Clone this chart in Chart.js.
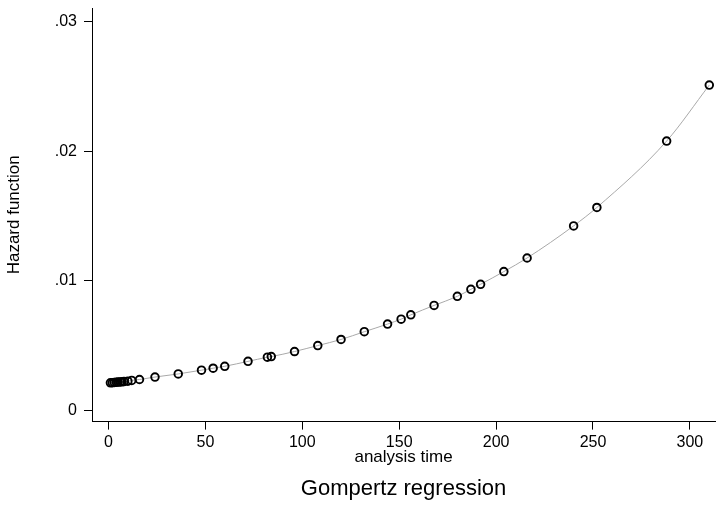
<!DOCTYPE html>
<html>
<head>
<meta charset="utf-8">
<script src="https://cdn.jsdelivr.net/npm/chart.js@4"></script>
<style>
  body { margin: 0; background: #fff; }
</style>
</head>
<body>
<canvas id="hazard" width="721" height="507"></canvas>
<script>
// gompertz hazard, values

const analysisTime = [1, 2, 3, 4, 5, 6, 7, 8, 10, 12, 16, 24, 36, 48, 54, 60, 72, 82, 84, 96,
  108, 120, 132, 144, 151, 156, 168, 180, 187, 192, 204, 216, 240, 252, 288, 310];
const hazard = [0.00212, 0.00213, 0.00215, 0.00216, 0.00218, 0.00219, 0.0022, 0.00222, 0.00225,
  0.00231, 0.00238, 0.00257, 0.00281, 0.0031, 0.00325, 0.0034, 0.00378, 0.0041, 0.00415, 0.00454,
  0.005, 0.00547, 0.00607, 0.00666, 0.00704, 0.00737, 0.0081, 0.0088, 0.00934, 0.00973, 0.01071,
  0.01176, 0.01424, 0.01566, 0.02079, 0.02511];

const xTicks = [0, 50, 100, 150, 200, 250, 300];
const yTicks = [0, 0.01, 0.02, 0.03];

const points = analysisTime.map((t, i) => ({ x: t, y: hazard[i] }));

const font = 'Liberation Sans, Arial, Helvetica, sans-serif';
Chart.defaults.color = '#000';
Chart.defaults.font.family = font;

const hazardChart = {
  type: 'scatter',
  data: {
    datasets: [{
      data: points,
      showLine: true,
      borderColor: '#a9a9a9',
      borderWidth: 1,
      cubicInterpolationMode: 'monotone',
      pointRadius: 3.8,
      pointBorderWidth: 1.9,
      pointBorderColor: '#000',
      pointBackgroundColor: 'rgba(0,0,0,0)',
      clip: false
    }]
  },
  options: {
    responsive: false,
    animation: false,
    layout: { padding: { top: 8, right: 0, left: 0, bottom: 0 } },
    plugins: {
      legend: { display: false },
      tooltip: { enabled: false },
      title: {
        display: true,
        text: 'Gompertz regression',
        position: 'bottom',
        fullSize: false,
        font: { size: 22, weight: 'normal' },
        padding: { top: 8, bottom: 5 }
      }
    },
    scales: {
      x: {
        type: 'linear',
        min: -8.5,
        max: 313,
        afterBuildTicks: s => { s.ticks = xTicks.map(v => ({ value: v })); },
        afterFit: s => { s.height = 46; s.paddingLeft = 0; s.paddingRight = 0; },
        grid: { drawOnChartArea: false, drawTicks: true, tickLength: 8, color: '#000' },
        border: { display: true, color: '#000', width: 1 },
        ticks: { padding: 3, font: { size: 16 }, maxRotation: 0 },
        title: { display: true, text: 'analysis time', font: { size: 17 }, padding: 0 }
      },
      y: {
        type: 'linear',
        min: -0.00087,
        max: 0.03106,
        afterBuildTicks: s => { s.ticks = yTicks.map(v => ({ value: v })); },
        afterFit: s => { s.width = 92; s.paddingTop = 0; s.paddingBottom = 0; },
        grid: { drawOnChartArea: false, drawTicks: true, tickLength: 8, color: '#000' },
        border: { display: true, color: '#000', width: 1 },
        ticks: {
          padding: 7,
          font: { size: 16 },
          callback: v => v === 0 ? '0' : v.toFixed(2).replace(/^0/, '')
        },
        title: { display: true, text: 'Hazard function', font: { size: 17 }, padding: { top: 4, bottom: 0 } }
      }
    }
  }
};

var myHazardChart = new Chart(
  document.getElementById('hazard'),
  hazardChart
);
</script>
</body>
</html>
